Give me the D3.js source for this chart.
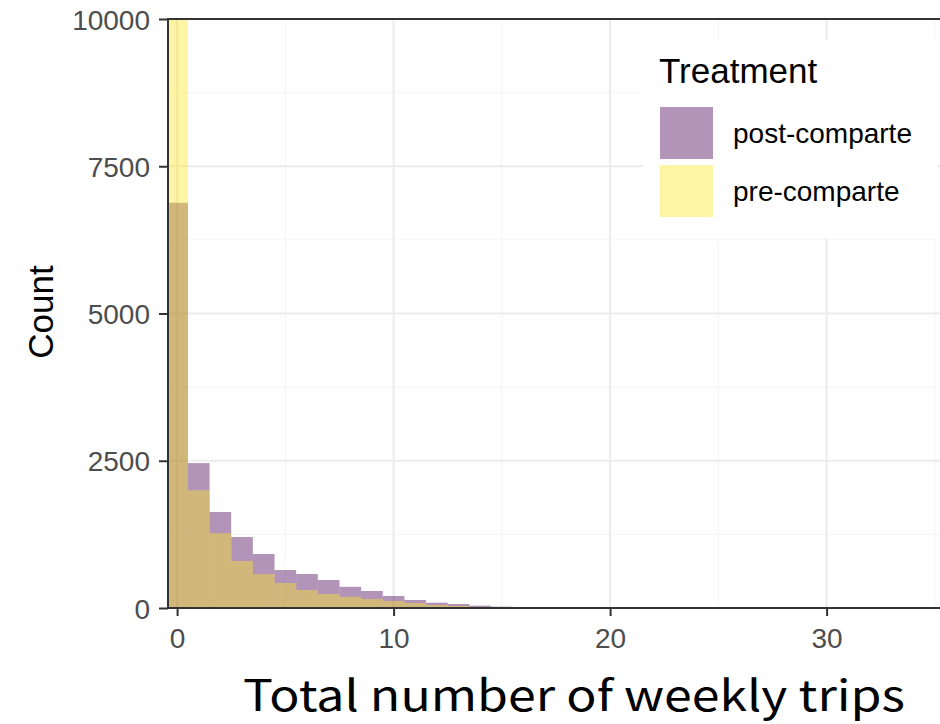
<!DOCTYPE html>
<html>
<head>
<meta charset="utf-8">
<script src="https://cdn.jsdelivr.net/npm/d3@7"></script>
<style>
    body { margin: 0; background: #fff; }
    svg { display: block; }
</style>
</head>
<body>
<div id="chart"></div>
<script>
// bins are 1 trip wide, centred on integers
const binStart = d3.range(0, 17);
const postCounts = [6880, 2460, 1630, 1205, 917, 645, 577, 475, 360, 289, 204, 136, 90, 68, 40, 23, 11];
const preCounts = [14000, 2000, 1273, 798, 577, 424, 306, 238, 190, 153, 119, 85, 51, 34, 18, 8, 3];
const groups = ["post-comparte", "pre-comparte"];
const groupColors = ["#440154", "#FDE725"];
const xTicks = [0, 10, 20, 30];
const xMinor = [5, 15, 25, 35];
const yTicks = [0, 2500, 5000, 7500, 10000];
const yMinor = [1250, 3750, 6250, 8750];

const width = 940, height = 724;
const panel = {left: 168, top: 19, right: 945, bottom: 608};

const svg = d3.select("#chart").append("svg")
    .attr("width", width)
    .attr("height", height);

const x = d3.scaleLinear()
    .domain([-0.42, 35.5])
    .range([panel.left, panel.left + 35.92 * 21.65]);
const y = d3.scaleLinear()
    .domain([0, 10000])
    .range([panel.bottom, panel.top]);
const color = d3.scaleOrdinal().domain(groups).range(groupColors);

svg.append("defs").append("clipPath")
    .attr("id", "panel-clip")
    .append("rect")
    .attr("x", panel.left)
    .attr("y", panel.top)
    .attr("width", panel.right - panel.left)
    .attr("height", panel.bottom - panel.top);

const g = svg.append("g").attr("clip-path", "url(#panel-clip)");

// grid
g.append("g").selectAll("line")
    .data(xMinor)
    .join("line")
    .attr("x1", d => x(d)).attr("x2", d => x(d))
    .attr("y1", panel.top).attr("y2", panel.bottom)
    .attr("stroke", "#f4f4f4").attr("stroke-width", 1);
g.append("g").selectAll("line")
    .data(yMinor)
    .join("line")
    .attr("x1", panel.left).attr("x2", panel.right)
    .attr("y1", d => y(d)).attr("y2", d => y(d))
    .attr("stroke", "#f4f4f4").attr("stroke-width", 1);
g.append("g").selectAll("line")
    .data(xTicks)
    .join("line")
    .attr("x1", d => x(d)).attr("x2", d => x(d))
    .attr("y1", panel.top).attr("y2", panel.bottom)
    .attr("stroke", "#ebebeb").attr("stroke-width", 2);
g.append("g").selectAll("line")
    .data(yTicks)
    .join("line")
    .attr("x1", panel.left).attr("x2", panel.right)
    .attr("y1", d => y(d)).attr("y2", d => y(d))
    .attr("stroke", "#ebebeb").attr("stroke-width", 2);

// histogram bars, post first then pre on top
const series = [postCounts, preCounts];
series.forEach((counts, k) => {
    g.append("g")
        .selectAll("rect")
        .data(binStart.map((b, i) => ({b: b, v: counts[i]})))
        .join("rect")
        .attr("x", d => x(d.b - 0.5))
        .attr("width", d => x(d.b + 0.5) - x(d.b - 0.5))
        .attr("y", d => y(d.v))
        .attr("height", d => y(0) - y(d.v))
        .attr("fill", color(groups[k]))
        .attr("fill-opacity", 0.42);
});

// panel border
svg.append("rect")
    .attr("x", panel.left)
    .attr("y", panel.top)
    .attr("width", panel.right - panel.left)
    .attr("height", panel.bottom - panel.top)
    .attr("fill", "none")
    .attr("stroke", "#333333")
    .attr("stroke-width", 2);

// axes
const xAxis = svg.append("g")
    .attr("transform", `translate(0,${panel.bottom})`)
    .call(d3.axisBottom(x).tickValues(xTicks).tickSize(8).tickPadding(4));
const yAxis = svg.append("g")
    .attr("transform", `translate(${panel.left},0)`)
    .call(d3.axisLeft(y).tickValues(yTicks).tickSize(9).tickFormat(d3.format("d")).tickPadding(9));
[xAxis, yAxis].forEach(a => {
    a.select(".domain").remove();
    a.selectAll(".tick line").attr("stroke", "#333333").attr("stroke-width", 2);
    a.selectAll(".tick text")
        .attr("fill", "#4d4d4d")
        .attr("font-family", "Liberation Sans, Arial, sans-serif")
        .attr("font-size", 28);
});
xAxis.selectAll(".tick text").attr("y", 40).attr("dy", 0);
yAxis.selectAll(".tick text").attr("dy", "0.36em");

// axis titles
svg.append("text")
    .attr("transform", "translate(53,312) rotate(-90)")
    .attr("text-anchor", "middle")
    .attr("font-family", "Liberation Sans, Arial, sans-serif")
    .attr("font-size", 35)
    .attr("fill", "#000")
    .text("Count");
svg.append("text")
    .attr("x", 243)
    .attr("y", 711)
    .attr("font-family", "Noto Sans CJK SC, sans-serif")
    .attr("font-size", 43)
    .attr("fill", "#000")
    .attr("textLength", 662)
    .attr("lengthAdjust", "spacingAndGlyphs")
    .text("Total number of weekly trips");

// legend
const legend = svg.append("g");
legend.append("rect")
    .attr("x", 643).attr("y", 40)
    .attr("width", 294).attr("height", 198)
    .attr("fill", "#fff");
legend.append("text")
    .attr("x", 659)
    .attr("y", 83)
    .attr("font-family", "Liberation Sans, Arial, sans-serif")
    .attr("font-size", 35)
    .attr("fill", "#000")
    .text("Treatment");
const keys = legend.selectAll(".key")
    .data(groups)
    .join("g")
    .attr("class", "key")
    .attr("transform", (d, i) => `translate(660,${107 + i * 58})`);
keys.append("rect")
    .attr("width", 53)
    .attr("height", 52)
    .attr("fill", d => color(d))
    .attr("fill-opacity", 0.42);
keys.append("text")
    .attr("x", 73)
    .attr("y", 26)
    .attr("dy", "0.36em")
    .attr("font-family", "Liberation Sans, Arial, sans-serif")
    .attr("font-size", 28)
    .attr("fill", "#000")
    .text(d => d);
</script>
</body>
</html>
